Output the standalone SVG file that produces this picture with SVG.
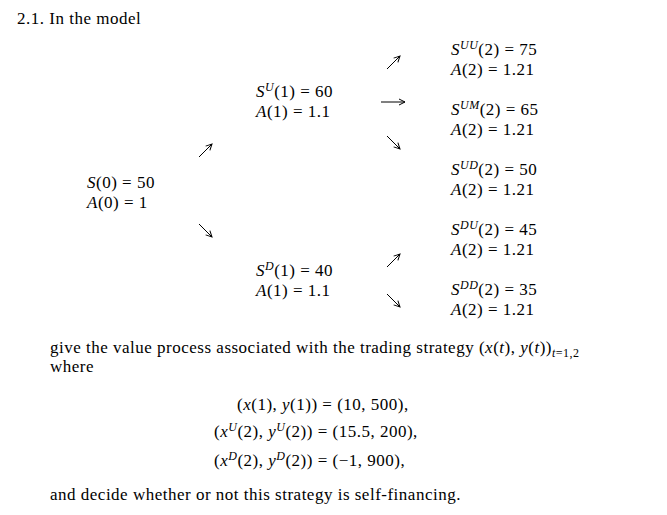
<svg xmlns="http://www.w3.org/2000/svg" width="667" height="515" viewBox="0 0 667 515">
<defs><marker id="h" markerWidth="8" markerHeight="8" refX="7" refY="4" orient="auto" markerUnits="userSpaceOnUse"><path d="M1,1 L7,4 L1,7" fill="none" stroke="#000" stroke-width="1"/></marker></defs>
<style>
text{font-family:"Liberation Serif","DejaVu Serif",serif;font-size:17px;letter-spacing:0.5px;fill:#000}
.i{font-style:italic}
.s{font-size:12px;font-style:italic}
.c line{stroke:#000;stroke-width:1;marker-end:url(#h)}
</style>
<rect width="667" height="515" fill="#fff"/>
<text x="17" y="24">2.1. In the model</text>
<g id="n0"><text x="87" y="188"><tspan class="i">S</tspan>(0) = 50</text><text x="87" y="208"><tspan class="i">A</tspan>(0) = 1</text></g>
<g id="nU"><text x="256" y="97"><tspan class="i">S</tspan><tspan class="s" dy="-6">U</tspan><tspan dy="6">(1) = 60</tspan></text><text x="256" y="117"><tspan class="i">A</tspan>(1) = 1.1</text></g>
<g id="nD"><text x="256" y="276"><tspan class="i">S</tspan><tspan class="s" dy="-6">D</tspan><tspan dy="6">(1) = 40</tspan></text><text x="256" y="296"><tspan class="i">A</tspan>(1) = 1.1</text></g>
<g id="nUU"><text x="451" y="55"><tspan class="i">S</tspan><tspan class="s" dy="-6">UU</tspan><tspan dy="6">(2) = 75</tspan></text><text x="451" y="75"><tspan class="i">A</tspan>(2) = 1.21</text></g>
<g id="nUM"><text x="451" y="115"><tspan class="i">S</tspan><tspan class="s" dy="-6">UM</tspan><tspan dy="6">(2) = 65</tspan></text><text x="451" y="135"><tspan class="i">A</tspan>(2) = 1.21</text></g>
<g id="nUD"><text x="451" y="175"><tspan class="i">S</tspan><tspan class="s" dy="-6">UD</tspan><tspan dy="6">(2) = 50</tspan></text><text x="451" y="195"><tspan class="i">A</tspan>(2) = 1.21</text></g>
<g id="nDU"><text x="451" y="235"><tspan class="i">S</tspan><tspan class="s" dy="-6">DU</tspan><tspan dy="6">(2) = 45</tspan></text><text x="451" y="255"><tspan class="i">A</tspan>(2) = 1.21</text></g>
<g id="nDD"><text x="451" y="295"><tspan class="i">S</tspan><tspan class="s" dy="-6">DD</tspan><tspan dy="6">(2) = 35</tspan></text><text x="451" y="315"><tspan class="i">A</tspan>(2) = 1.21</text></g>
<g id="connectors" class="c">
<line x1="199" y1="157" x2="212" y2="144"/>
<line x1="199" y1="224" x2="212" y2="237"/>
<line x1="387" y1="69" x2="400" y2="56"/>
<line x1="381" y1="102" x2="405" y2="102"/>
<line x1="387" y1="136" x2="400" y2="149"/>
<line x1="387" y1="267" x2="400" y2="254"/>
<line x1="387" y1="294" x2="400" y2="307"/>
</g>
<text x="50" y="353">give the value process associated with the trading strategy (<tspan class="i">x</tspan>(<tspan class="i">t</tspan>), <tspan class="i">y</tspan>(<tspan class="i">t</tspan>))<tspan class="s" dy="4">t</tspan><tspan font-size="12" dy="0">=1,2</tspan></text>
<text x="50" y="372">where</text>
<text x="237" y="410">(<tspan class="i">x</tspan>(1), <tspan class="i">y</tspan>(1)) = (10, 500),</text>
<text x="214" y="437">(<tspan class="i">x</tspan><tspan class="s" dy="-6">U</tspan><tspan dy="6">(2), </tspan><tspan class="i">y</tspan><tspan class="s" dy="-6">U</tspan><tspan dy="6">(2)) = (15.5, 200),</tspan></text>
<text x="214" y="466">(<tspan class="i">x</tspan><tspan class="s" dy="-6">D</tspan><tspan dy="6">(2), </tspan><tspan class="i">y</tspan><tspan class="s" dy="-6">D</tspan><tspan dy="6">(2)) = (−1, 900),</tspan></text>
<text x="50" y="500">and decide whether or not this strategy is self-financing.</text>
</svg>
